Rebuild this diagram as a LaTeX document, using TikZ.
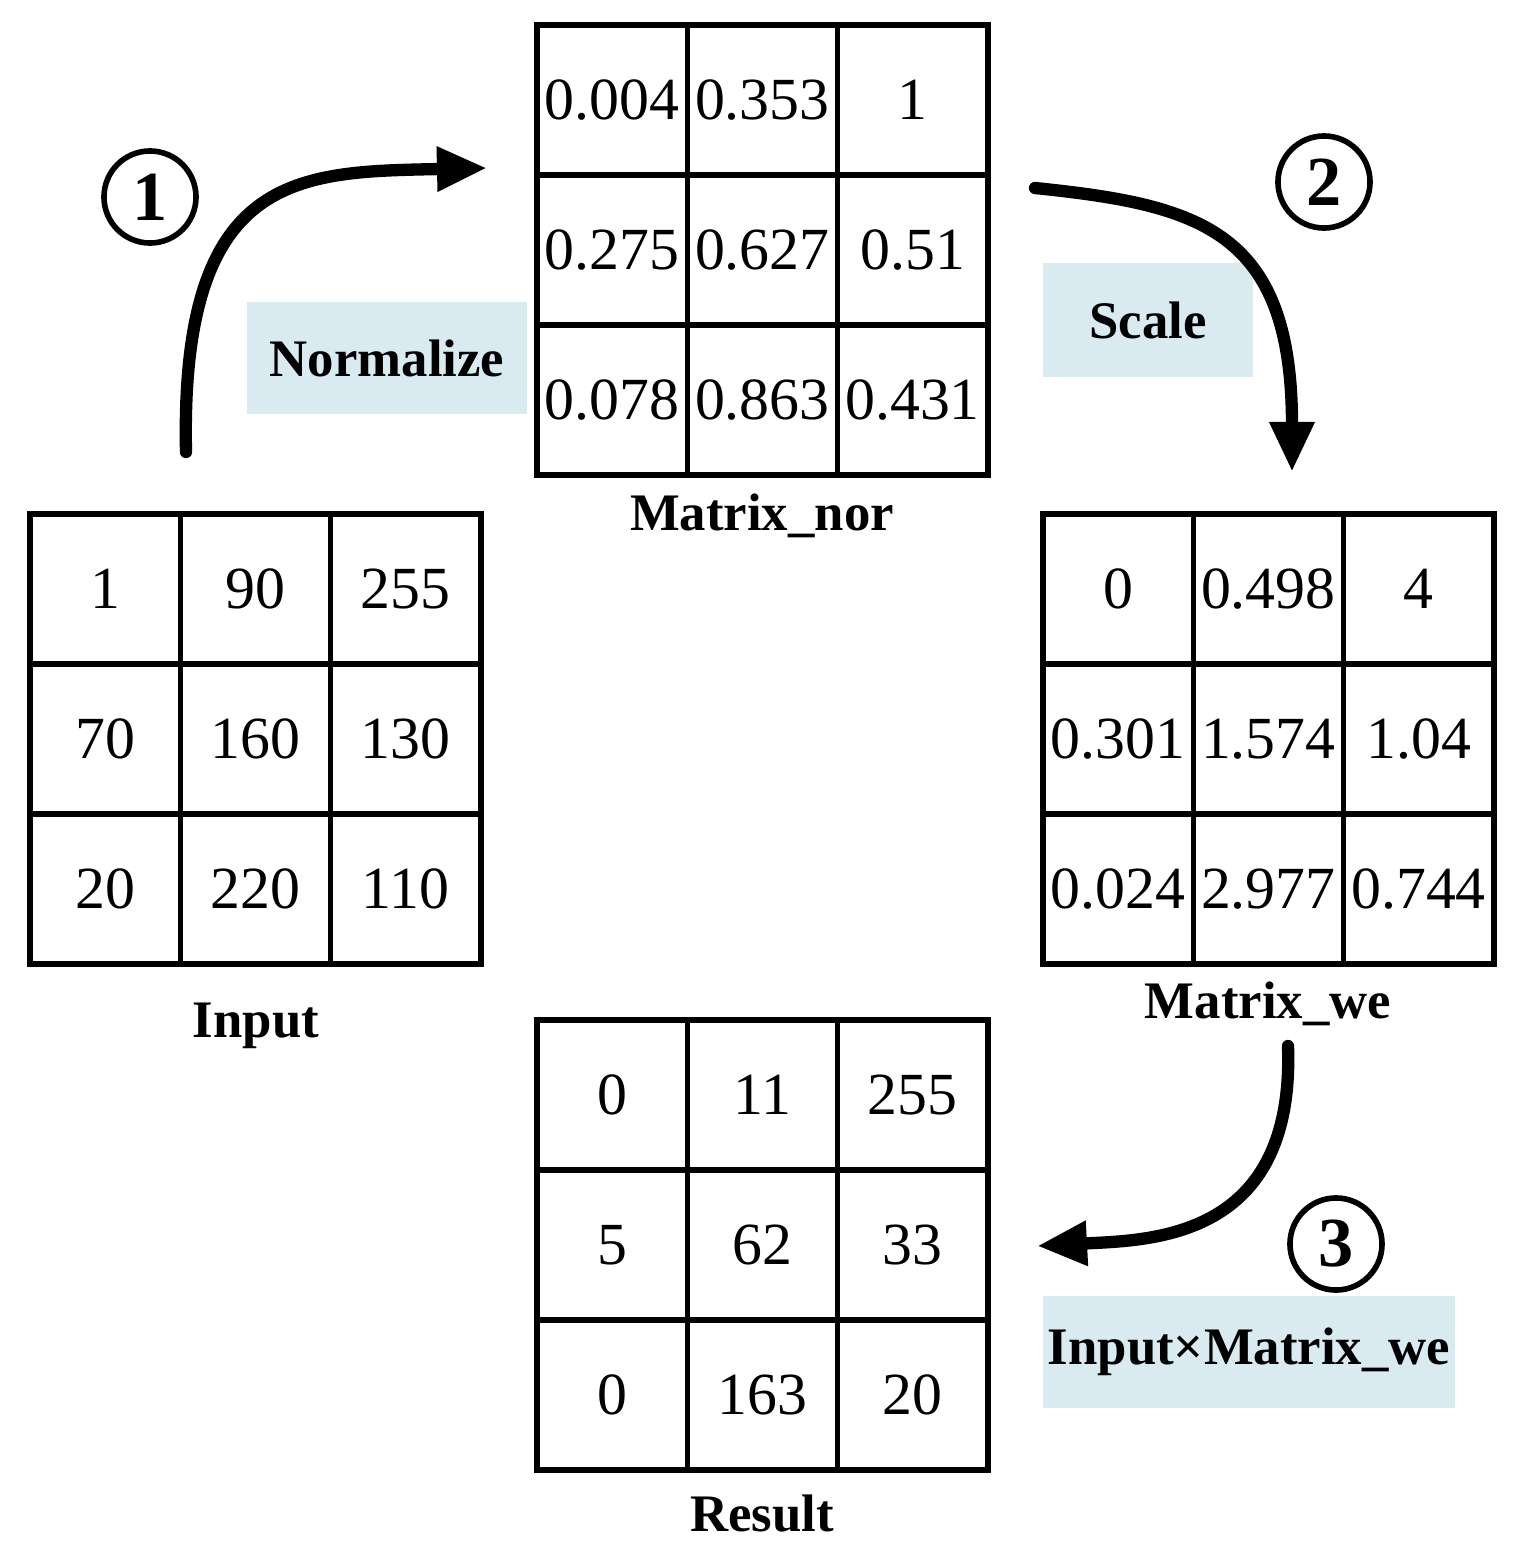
\documentclass[tikz,border=0pt]{standalone}
\usepackage{fontspec}
\setmainfont{Liberation Serif}
\usetikzlibrary{arrows.meta}
\definecolor{lbl}{RGB}{217,234,241}
\begin{document}
\begin{tikzpicture}[x=0.01cm,y=-0.01cm,
  grid/.style={line width=1.5pt},
  cell/.style={font=\fontsize{17}{20}\selectfont},
  capt/.style={font=\bfseries\fontsize{15}{18}\selectfont},
  tag/.style={fill=lbl,font=\bfseries\fontsize{15}{18}\selectfont,inner sep=0pt},
  num/.style={circle,draw,line width=1.6pt,minimum size=0.92cm,inner sep=0pt,font=\bfseries\fontsize{20}{24}\selectfont},
  flow/.style={line width=3.5pt,-{Triangle[length=0.5cm,width=0.42cm]}}]
\useasboundingbox (0,0) rectangle (1528,1560);
% grids
\foreach \gx/\gy/\nm in {537/25/nor,30/514/inp,1043/514/we,537/1020/res}{
  \draw[grid] (\gx,\gy) rectangle ++(451,450);
  \draw[grid] (\gx+150.3,\gy) -- ++(0,450) (\gx+300.6,\gy) -- ++(0,450)
              (\gx,\gy+150) -- ++(451,0) (\gx,\gy+300) -- ++(451,0);
}
\newcommand{\fillgrid}[3]{%
  \foreach \v [count=\i from 0] in {#3}{
    \pgfmathtruncatemacro{\c}{mod(\i,3)}\pgfmathtruncatemacro{\r}{div(\i,3)}
    \node[cell] (#1-\r-\c) at ({#2+75+150.3*\c},{\gy+75+150*\r}) {\v};}}
\def\gy{25}\fillgrid{nor}{537}{0.004,0.353,1,0.275,0.627,0.51,0.078,0.863,0.431}
\def\gy{514}\fillgrid{inp}{30}{1,90,255,70,160,130,20,220,110}
\def\gy{514}\fillgrid{we}{1043}{0,0.498,4,0.301,1.574,1.04,0.024,2.977,0.744}
\def\gy{1020}\fillgrid{res}{537}{0,11,255,5,62,33,0,163,20}
% captions
\node[capt] (cnor) at (762,516) {Matrix\_nor};
\node[capt] (cinp) at (256,1026) {Input};
\node[capt] (cwe) at (1268,1004) {Matrix\_we};
\node[capt] (cres) at (762,1514) {Result};
% tags
\node[tag,minimum width=2.8cm,minimum height=1.12cm] (tn) at (387,358) {Normalize};
\node[tag,minimum width=2.1cm,minimum height=1.13cm] (ts) at (1148,320) {Scale};
\node[tag,minimum width=4.12cm,minimum height=1.12cm] (tm) at (1249,1352) {Input×Matrix\_we};
% circled numbers
\node[num] (n1) at (150,197) {1};
\node[num] (n2) at (1324,182) {2};
\node[num] (n3) at (1336,1244) {3};
% arrows
\coordinate (a1s) at (186,452); \coordinate (a1e) at (487,168);
\coordinate (a2s) at (1035,188); \coordinate (a2e) at (1292,472);
\coordinate (a3s) at (1288,1046); \coordinate (a3e) at (1037,1246);
\draw[flow,line cap=round] (a1s) .. controls (180,170) and (300,172) .. (a1e);
\draw[flow,line cap=round] (a2s) .. controls (1200,205) and (1292,230) .. (a2e);
\draw[flow,line cap=round] (a3s) .. controls (1295,1240) and (1150,1240) .. (a3e);
\end{tikzpicture}
\end{document}
